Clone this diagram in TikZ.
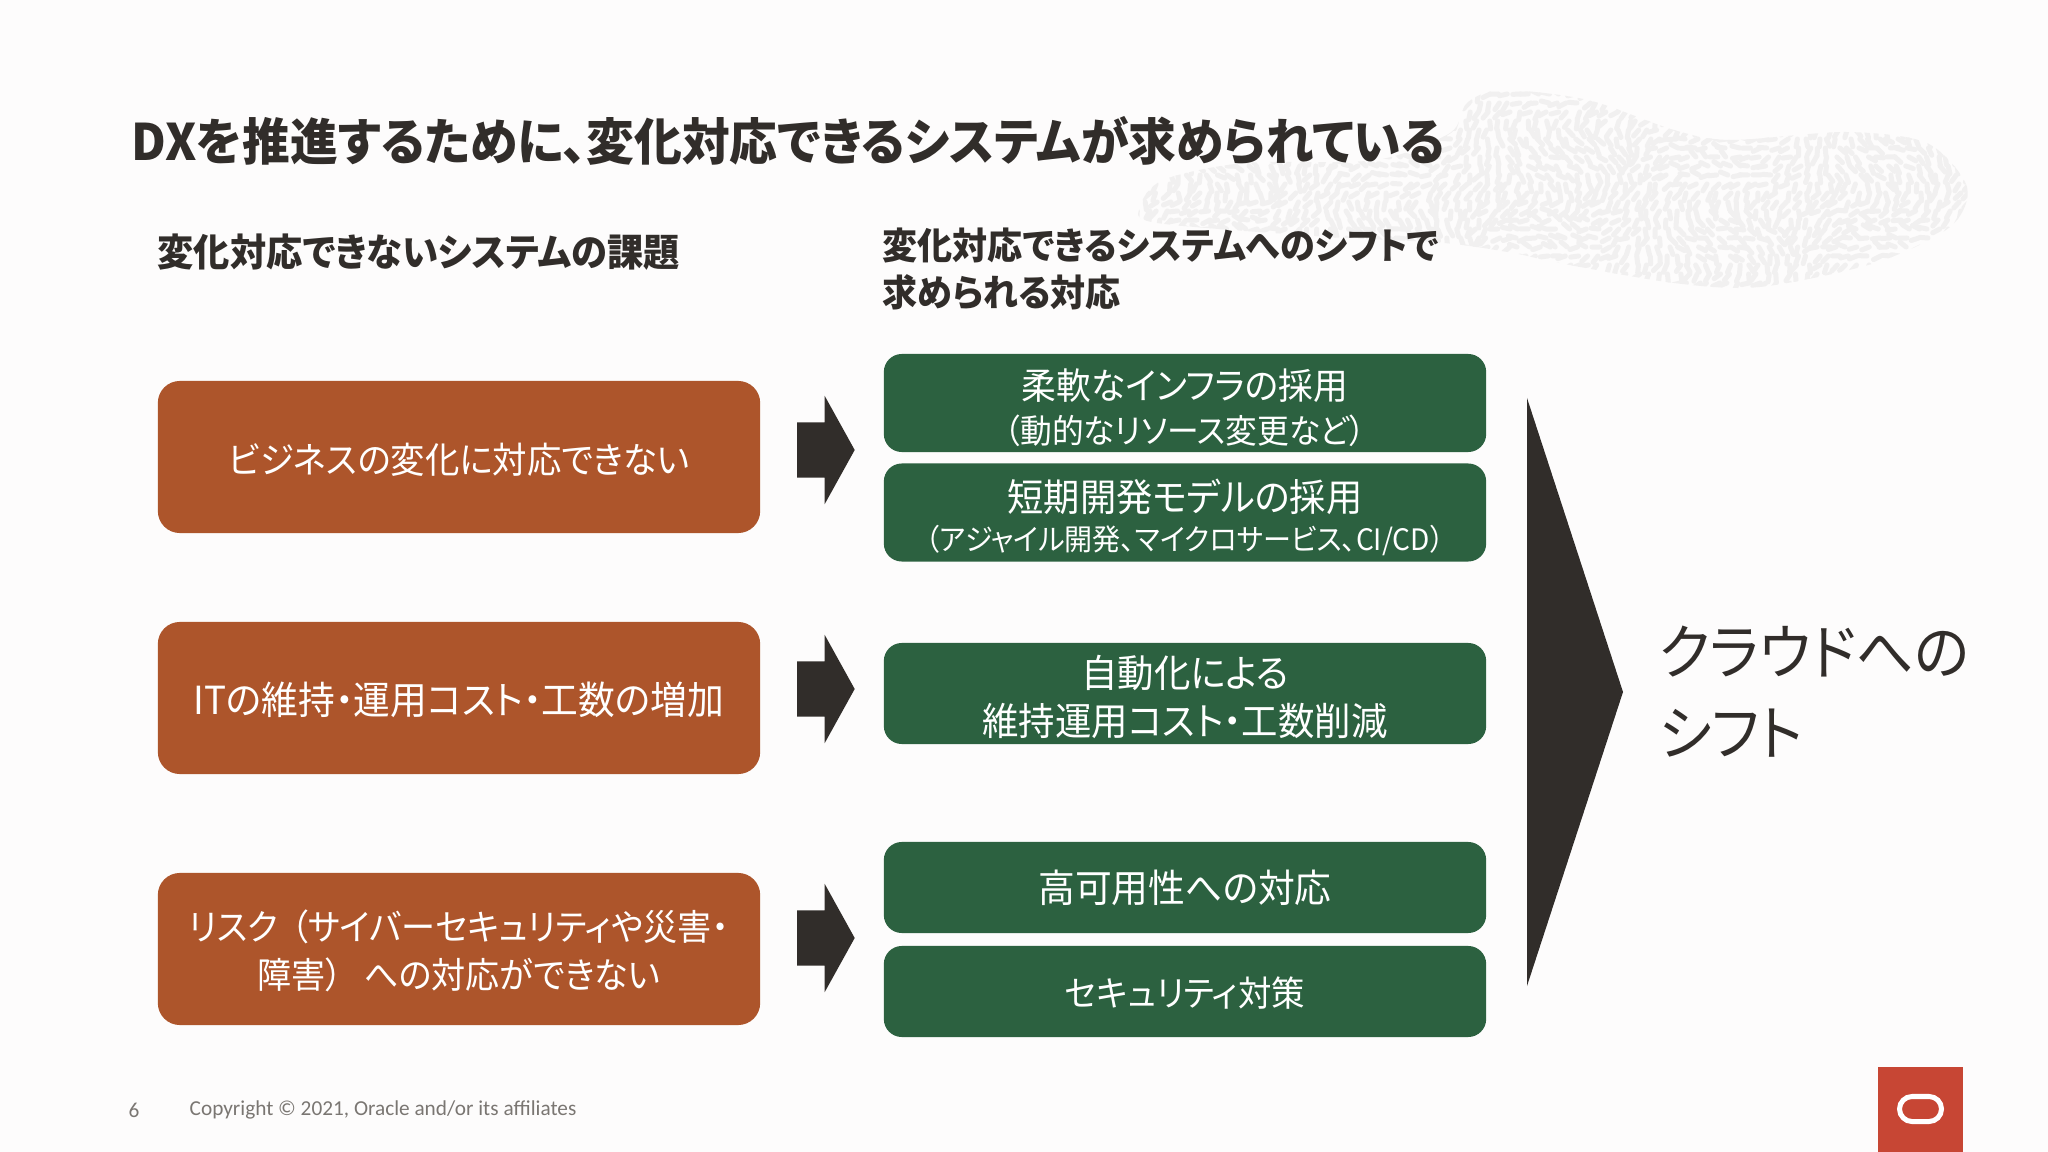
\documentclass[tikz,border=0pt]{standalone}
\usepackage{fontspec}
\usetikzlibrary{shapes.arrows}
\setmainfont{Noto Sans CJK JP}[RawFeature=+palt,FakeStretch=0.95]
\newfontfamily\footfont{Carlito}
\definecolor{pagebg}{HTML}{FDFCFC}
\definecolor{inkdark}{HTML}{312D2A}
\definecolor{rustbox}{HTML}{AD552B}
\definecolor{greenbox}{HTML}{2C6140}
\definecolor{oraclered}{HTML}{C74634}
\definecolor{footgray}{HTML}{7A7672}
\definecolor{grain}{HTML}{F1F0F0}
\newcommand{\sizeto}[1]{\fontsize{#1}{13.6}\selectfont}
\newcommand{\liftline}[1]{\rule{0pt}{#1}}
\begin{document}
\begin{tikzpicture}[x=0.01cm,y=-0.01cm,
    rustnode/.style={rectangle,rounded corners=0.22cm,fill=rustbox,text=white,align=center,
      minimum width=6.02cm,minimum height=1.52cm,inner sep=0pt},
    greennode/.style={rectangle,rounded corners=0.18cm,fill=greenbox,text=white,align=center,
      minimum width=6.02cm,inner sep=0pt},
    headnode/.style={anchor=west,inner sep=0pt,text=inkdark,align=left,font=\sizeto{10.5}\bfseries},
    blockarrow/.style={single arrow,fill=inkdark,inner sep=0pt,text height=0.27cm,text depth=0.27cm,
      minimum height=0.575cm,minimum width=1.07cm,
      single arrow head extend=0.265cm,single arrow tip angle=122,anchor=tip},
    footnode/.style={anchor=west,inner sep=0pt,text=footgray,font=\footfont\fontsize{6.05}{8}\selectfont}]
  \useasboundingbox (0,0) rectangle (2048,1152);
  \fill[pagebg] (0,0) rectangle (2048,1152);
  % leaf pattern behind the title
  \begin{scope}
    \clip plot[smooth cycle] coordinates {(1140,207) (1163,180) (1244,163) (1376,160) (1450,133) (1467,103) (1502,90)
      (1588,100) (1674,130) (1731,140) (1846,132) (1927,143) (1967,187) (1950,227) (1875,263) (1760,287)
      (1674,283) (1559,263) (1513,253) (1444,243) (1330,237) (1157,223)};
    \pgfmathsetseed{42}
    \foreach \gx in {1135,1145,...,1970}
      \foreach \gy in {85,94,...,290}{
        \pgfmathsetmacro\ang{80+90*sin(\gx*1.1)*cos(\gy*2.3)+rnd*70}
        \pgfmathsetmacro\dx{\gx+rnd*6}
        \draw[grain,line width=0.05cm,line cap=round] (\dx,\gy) -- ++(\ang:8);
      }
  \end{scope}
  \node[headnode,font=\sizeto{14.3}\bfseries] (title) at (131,141) {DXを推進するために、変化対応できるシステムが求められている};
  \node[headnode,font=\sizeto{10.85}\bfseries] (lefthead) at (157,252) {変化対応できないシステムの課題};
  \node[headnode] (righthead) at (882,269) {変化対応できるシステムへのシフトで\\求められる対応};
  \node[rustnode,font=\sizeto{10.3}] (issue1) at (459,457) {\liftline{10.5pt}ビジネスの変化に対応できない};
  \node[rustnode,font=\sizeto{11}] (issue2) at (459,698) {\liftline{10.5pt}ITの維持・運用コスト・工数の増加};
  \node[rustnode,font=\sizeto{10.2}] (issue3) at (459,949) {\liftline{10pt}リスク\hspace{0.35em}（サイバーセキュリティや災害・\\障害）\hspace{0.6em}への対応ができない};
  \node[blockarrow] (arrow1) at (855.5,450) {};
  \node[blockarrow] (arrow2) at (855.5,689) {};
  \node[blockarrow] (arrow3) at (855.5,938) {};
  \node[greennode,minimum height=0.98cm,font=\sizeto{10.4}] (infra) at (1185,403) {\liftline{11.5pt}柔軟なインフラの採用\\[-1.2pt]{\sizeto{9.5}（動的なリソース変更など）}};
  \node[greennode,minimum height=0.98cm,font=\sizeto{10.85}] (model) at (1185,512.5) {\liftline{11.8pt}短期開発モデルの採用\\[-2.5pt]{\sizeto{8.4}（アジャイル開発、マイクロサービス、CI/CD）}};
  \node[greennode,minimum height=1.01cm,font=\sizeto{10.9}] (auto) at (1185,693.5) {\liftline{11.1pt}自動化による\\維持運用コスト・工数削減};
  \node[greennode,minimum height=0.91cm,font=\sizeto{11}] (avail) at (1185,887.5) {\liftline{9.6pt}高可用性への対応};
  \node[greennode,minimum height=0.91cm,font=\sizeto{10}] (secure) at (1185,991.5) {\liftline{9.6pt}セキュリティ対策};
  \fill[inkdark] (1527,398) -- (1623,692) -- (1527,986) -- cycle;
  \node[anchor=west,inner sep=0pt,text=inkdark,align=left,font=\fontsize{17.1}{23}\selectfont] (cloud) at (1658,692) {クラウドへの\\シフト};
  \node[footnode] (page) at (128,1110) {6};
  \node[footnode] (copy) at (189,1110) {Copyright © 2021, Oracle and/or its affiliates};
  \fill[oraclered] (1878,1067) rectangle (1963,1152);
  \node[draw=white,line width=0.05cm,rounded corners=0.125cm,minimum width=0.42cm,minimum height=0.25cm,inner sep=0pt] (logo) at (1920.5,1109) {};
\end{tikzpicture}
\end{document}
